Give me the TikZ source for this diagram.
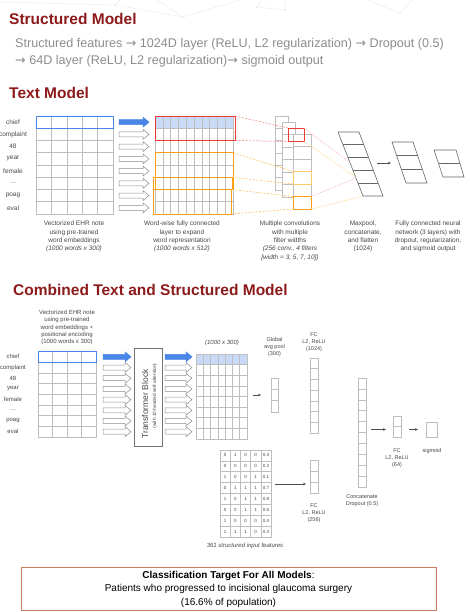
\documentclass[tikz,border=0pt]{standalone}
\usepackage{fontspec}
\setmainfont{Liberation Sans}
\newfontfamily\arrowfont{DejaVu Sans}
\usetikzlibrary{arrows.meta, calc}

\definecolor{titlered}{RGB}{140,26,26}
\definecolor{leadgray}{RGB}{140,140,140}
\definecolor{captext}{RGB}{70,70,70}
\definecolor{gridgray}{RGB}{190,190,190}
\definecolor{paneblue}{RGB}{201,218,248}
\definecolor{edgeblue}{RGB}{74,134,232}
\definecolor{winred}{RGB}{234,60,50}
\definecolor{winorange}{RGB}{255,160,20}
\definecolor{winlight}{RGB}{255,200,110}
\definecolor{boxedge}{RGB}{205,125,100}
\definecolor{decogray}{RGB}{236,236,236}

\newcommand{\thento}{{\arrowfont →}}
% grid lines inside a named box: name, columns, rows
\newcommand{\cellgrid}[3]{%
  \draw[cellline] (#1.north west) rectangle (#1.south east);
  \foreach \i in {1,...,#2}
    \draw[cellline] ($(#1.north west)!\i/#2!(#1.north east)$) -- ($(#1.south west)!\i/#2!(#1.south east)$);
  \foreach \j in {1,...,#3}
    \draw[cellline] ($(#1.north west)!\j/#3!(#1.south west)$) -- ($(#1.north east)!\j/#3!(#1.south east)$);
}
% wide hollow arrow: x from, x to, y, style
\newcommand{\blockarrow}[4]{%
  \draw[#4] (#1,{#3-2.5}) -- ({#2-6},{#3-2.5}) -- ({#2-6},{#3-5}) -- (#2,#3)
    -- ({#2-6},{#3+5}) -- ({#2-6},{#3+2.5}) -- (#1,{#3+2.5}) -- cycle;
}

\begin{document}
\begin{tikzpicture}[x=1pt, y=-1pt, >=Stealth,
    title/.style={anchor=base west, inner sep=0, text=titlered,
      font=\fontsize{15.5}{18}\selectfont\bfseries},
    lead/.style={anchor=base west, inner sep=0, text=leadgray,
      font=\fontsize{12.6}{14}\selectfont},
    caption/.style={anchor=north, align=center, inner sep=0, text=captext,
      font=\fontsize{6.5}{8.3}\selectfont},
    tag/.style={align=center, inner sep=0, text=captext,
      font=\fontsize{5.5}{7}\selectfont},
    word/.style={inner sep=0, text=captext, font=\fontsize{6.5}{8}\selectfont},
    val/.style={inner sep=0, text=captext, font=\fontsize{4.5}{5}\selectfont},
    pane/.style={inner sep=0, outer sep=0},
    cellline/.style={draw=gridgray, line width=0.6pt},
    stack/.style={pane, fill=white},
    slant/.style={draw=black!60, line width=0.6pt},
    blockfill/.style={fill=edgeblue, draw=edgeblue, line width=0.5pt},
    blockline/.style={draw=black!45, line width=0.5pt, fill=white},
    redwin/.style={pane, draw=winred, line width=0.9pt},
    orwin/.style={pane, draw=winorange, line width=0.9pt},
    reddash/.style={draw=winred!70, line width=0.5pt, dash pattern=on 2pt off 1.5pt},
    ordash/.style={draw=winorange!80, line width=0.5pt, dash pattern=on 2pt off 1.5pt},
    pinkdot/.style={draw=winred!45, line width=0.5pt, dash pattern=on 1pt off 1pt},
    yeldot/.style={draw=winlight, line width=0.5pt, dash pattern=on 1pt off 1pt},
    flow/.style={->, draw=black!70, line width=0.5pt, >={Stealth[length=3pt,width=2.6pt]}}]
\useasboundingbox (0,0) rectangle (469,612);

% faint network decoration at the top
\draw[decogray, line width=0.5pt] (0,2) -- (115,5) -- (183,17) -- (157,0)
  (183,17) -- (240,0) (115,5) -- (120,0) (257,7) -- (285,10) -- (285,0)
  (257,7) -- (262,0) (367,0) -- (400,13) -- (412,0);
\foreach \p in {(115,5),(183,17),(257,7),(285,10),(400,13)}
  \fill[decogray] \p circle (1.2);

% headings
\node[title] (tstruct) at (9,25) {Structured Model};
\node[lead] (lead1) at (15,48) {Structured features \thento{} 1024D layer (ReLU, L2 regularization) \thento{} Dropout (0.5)};
\node[lead] (lead2) at (15,65) {\thento{} 64D layer (ReLU, L2 regularization)\thento{} sigmoid output};
\node[title] (ttext) at (9,99) {Text Model};

% ---- Text model ----
\foreach \w [count=\k from 0] in {chief,complaint,48,year,female,{\ldots},poag,eval}
  \node[word] (tw\k) at (13,{122.1+12.25*\k}) {\w};

\node[pane, minimum width=77, minimum height=98] (emb) at (74.5,165) {};
\cellgrid{emb}{5}{8}
\draw[edgeblue, line width=0.9pt] (emb.north west) rectangle ($(emb.north east)!1/8!(emb.south east)$);

\foreach \k in {0,...,7} {
  \pgfmathsetmacro{\yy}{122.1+12.25*\k}
  \ifnum\k=0 \blockarrow{119}{149}{\yy}{blockfill}\else\blockarrow{119}{149}{\yy}{blockline}\fi
}

\node[pane, minimum width=78, minimum height=98] (wide) at (194,165) {};
\fill[paneblue] (wide.north west) rectangle ($(wide.north east)!1/8!(wide.south east)$);
\cellgrid{wide}{10}{8}

% filter windows on the wide layer
\node[redwin, minimum width=80, minimum height=24.5] (rwin) at (195,128.25) {};
\node[orwin, minimum width=78, minimum height=36.75] (owa) at (194,171.1) {};
\node[orwin, minimum width=79, minimum height=12.25] (owb) at (192.5,183.4) {};
\node[orwin, minimum width=78, minimum height=24.5] (owc) at (192,201.75) {};

% stacked convolution maps
\node[stack, minimum width=13, minimum height=74] (conva) at (281.5,153) {};
\cellgrid{conva}{1}{6}
\node[stack, minimum width=13, minimum height=75] (convb) at (288.5,159.5) {};
\cellgrid{convb}{1}{6}
\node[stack, minimum width=18, minimum height=75] (convc) at (302,171.5) {};
\cellgrid{convc}{1}{6}
\node[redwin, minimum width=16, minimum height=13.5] (rf) at (296,134.75) {};
\node[pane, draw=winlight, line width=0.9pt, minimum width=18, minimum height=12.5] (ofa) at (302,177.75) {};
\node[orwin, minimum width=18, minimum height=12.5] (ofb) at (302,202.75) {};

\draw[reddash] (rwin.north east) -- (rf.north west);
\draw[reddash] (rwin.south east) -- (rf.south west);
\draw[ordash] (owa.north east) -- (ofa.north west);
\draw[ordash] (owb.north east) -- (ofa.south west);
\draw[ordash] (owb.south east) -- (ofb.north west);
\draw[ordash] (owc.south east) -- (ofb.south west);

% maxpool and flatten
\coordinate (mpA) at (338,132);
\coordinate (mpB) at (359,132);
\coordinate (mpC) at (383,196);
\coordinate (mpD) at (363,196);
\draw[slant] (mpA) -- (mpB) -- (mpC) -- (mpD) -- cycle;
\foreach \t in {1,...,4}
  \draw[slant] ($(mpA)!\t/5!(mpD)$) -- ($(mpB)!\t/5!(mpC)$);

\draw[pinkdot] (rf.north east) -- ($(mpA)!0.48!(mpD)$);
\draw[pinkdot] (ofb.north east) -- ($(mpA)!0.72!(mpD)$);
\draw[yeldot] (rf.south east) -- ($(mpA)!0.70!(mpD)$);
\draw[yeldot] (ofb.south east) -- (mpD);

% fully connected layers
\coordinate (fcA) at (392,142);
\coordinate (fcB) at (413,142);
\coordinate (fcC) at (427,183);
\coordinate (fcD) at (406,183);
\draw[slant] (fcA) -- (fcB) -- (fcC) -- (fcD) -- cycle;
\foreach \t in {1,2}
  \draw[slant] ($(fcA)!\t/3!(fcD)$) -- ($(fcB)!\t/3!(fcC)$);

\coordinate (outA) at (434,150);
\coordinate (outB) at (456,150);
\coordinate (outC) at (464,177);
\coordinate (outD) at (443,177);
\draw[slant] (outA) -- (outB) -- (outC) -- (outD) -- cycle;
\draw[slant] ($(outA)!0.5!(outD)$) -- ($(outB)!0.5!(outC)$);

\coordinate (mpout) at (377,163);
\coordinate (fcin) at (391,163);
\draw[flow] (mpout) -- (fcin);

% captions
\node[caption] (cemb) at (74,221) {Vectorized EHR note\\using pre-trained\\word embeddings\\\textit{(1000 words x 300)}};
\node[caption] (cwide) at (182,221) {Word-wise fully connected\\layer to expand\\word representation\\\textit{(1000 words x 512)}};
\node[caption] (cconv) at (290,221) {Multiple convolutions\\with multiple\\filter widths\\\textit{(256 conv., 4 filters}\\\textit{[width = 3, 5, 7, 10])}};
\node[caption] (cpool) at (363,221) {Maxpool,\\concatenate,\\and flatten\\(1024)};
\node[caption] (cfc) at (428,221) {Fully connected neural\\network (3 layers) with\\dropout, regularization,\\and sigmoid output};

% ---- Combined model ----
\node[title] (tcomb) at (13,295) {Combined Text and Structured Model};

\node[caption, font=\fontsize{6}{7.3}\selectfont] (cpos) at (67,310) {Vectorized EHR note\\using pre-trained\\word embeddings +\\positional encoding\\(1000 words x 300)};

\foreach \w [count=\k from 0] in {chief,complaint,48,year,female,{\ldots},poag,eval}
  \node[word, font=\fontsize{6}{7}\selectfont] (cw\k) at (13,{356.85+10.69*\k}) {\w};

\node[pane, minimum width=58, minimum height=85.5] (pemb) at (67,394.25) {};
\cellgrid{pemb}{4}{8}
\draw[edgeblue, line width=0.9pt] (pemb.north west) rectangle ($(pemb.north east)!1/8!(pemb.south east)$);

\foreach \k in {0,...,7} {
  \pgfmathsetmacro{\yy}{356.85+10.69*\k}
  \ifnum\k=0
    \blockarrow{103}{131}{\yy}{blockfill}\blockarrow{165}{192}{\yy}{blockfill}
  \else
    \blockarrow{103}{131}{\yy}{blockline}\blockarrow{165}{192}{\yy}{blockline}
  \fi
}

\node[pane, draw=black!55, line width=0.8pt, minimum width=28, minimum height=98] (tblock) at (148,397) {};
\node[inner sep=0, rotate=90, text=captext, font=\fontsize{8.5}{9}\selectfont] (tbname) at (145,404) {Transformer Block};
\node[inner sep=0, rotate=90, text=captext, font=\fontsize{4.8}{5}\selectfont] (tbnote) at (155,396) {(with 10-headed self-attention)};

\node[pane, minimum width=51, minimum height=85] (tout) at (221.5,396.5) {};
\fill[paneblue] (tout.north west) rectangle ($(tout.north east)!1/8!(tout.south east)$);
\cellgrid{tout}{7}{8}
\node[tag, font=\fontsize{6}{7}\selectfont\itshape] (ctout) at (222,343) {(1000 x 300)};

\node[pane, minimum width=7, minimum height=34] (gpool) at (274.5,395) {};
\cellgrid{gpool}{1}{3}
\node[tag] (cgpool) at (274.5,347.5) {Global\\avg pool\\(300)};
\draw[flow, shorten <=6pt, shorten >=10pt] (tout.east |- gpool.west) -- (gpool.west);

\node[pane, minimum width=8, minimum height=75] (fcbig) at (314,395.5) {};
\cellgrid{fcbig}{1}{7}
\node[tag] (cfcbig) at (314,341.7) {FC\\L2, ReLU\\(1024)};

% structured features
\node[pane, minimum width=51, minimum height=87] (smat) at (245.5,493.5) {};
\cellgrid{smat}{5}{8}
\foreach \row [count=\r] in {{0,1,0,0,0.3},{0,0,0,0,0.2},{1,0,0,1,0.1},{0,1,1,1,0.7},
    {1,0,1,1,0.8},{0,0,1,1,0.6},{1,0,0,0,0.4},{1,1,1,0,0.3}}
  \foreach \v [count=\c] in \row
    \node[val] (v\r\c) at ({220+10.2*(\c-0.5)},{450+10.875*(\r-0.5)}) {\v};
\node[tag, font=\fontsize{6}{7}\selectfont\itshape] (csmat) at (245,546) {361 structured input features};

\node[pane, minimum width=8, minimum height=33] (fcsmall) at (314,476.5) {};
\cellgrid{fcsmall}{1}{3}
\node[tag] (cfcsmall) at (314,513) {FC\\L2, ReLU\\(256)};
\coordinate (sin) at (306,484);
\draw[flow, shorten <=4pt] (smat.east |- sin) -- (sin);

% concatenation and output
\node[pane, minimum width=8, minimum height=109] (concat) at (362,432.5) {};
\cellgrid{concat}{1}{10}
\node[tag] (cconcat) at (362,500.5) {Concatenate\\Dropout (0.5)};

\node[pane, minimum width=8, minimum height=21] (fcsix) at (397,426.5) {};
\cellgrid{fcsix}{1}{2}
\node[tag] (cfcsix) at (397,458) {FC\\L2, ReLU\\(64)};

\node[pane, minimum width=11, minimum height=15] (sig) at (431.5,429.5) {};
\cellgrid{sig}{1}{1}
\node[tag] (csig) at (432,451) {sigmoid};

\draw[flow, shorten <=5pt, shorten >=7pt] (concat.east |- sig.west) -- (fcsix.west |- sig.west);
\draw[flow, shorten <=8pt, shorten >=8pt] (fcsix.east |- sig.west) -- (sig.west);

% target box
\node[pane, draw=boxedge, line width=0.9pt, minimum width=415, minimum height=43.5,
  align=center, font=\fontsize{10}{13.5}\selectfont] (target) at (228.5,589) {%
  \textbf{Classification Target For All Models}:\\
  Patients who progressed to incisional glaucoma surgery\\
  (16.6\% of population)};
\end{tikzpicture}
\end{document}
